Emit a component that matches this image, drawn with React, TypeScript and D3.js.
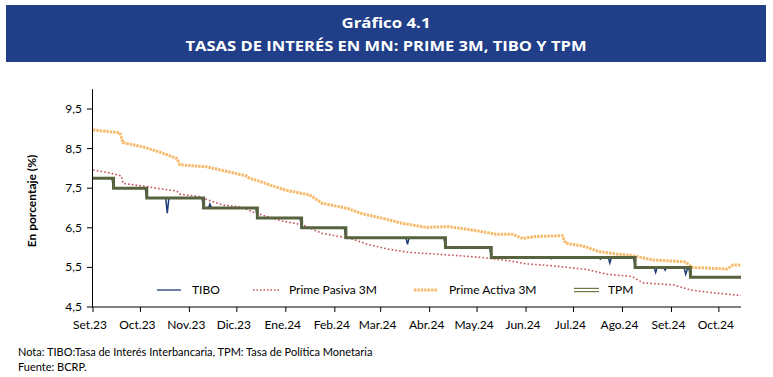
import React from "react";
import * as d3 from "d3";

// ---------- data ----------
const tickDates = [
  "2023-09-01", "2023-10-01", "2023-11-01", "2023-12-01", "2024-01-01", "2024-02-01", "2024-03-01",
  "2024-04-01", "2024-05-01", "2024-06-01", "2024-07-01", "2024-08-01", "2024-09-01", "2024-10-01",
];
const tickLabels = [
  "Set.23", "Oct.23", "Nov.23", "Dic.23", "Ene.24", "Feb.24", "Mar.24",
  "Abr.24", "May.24", "Jun.24", "Jul.24", "Ago.24", "Set.24", "Oct.24",
];
const yTicks = [4.5, 5.5, 6.5, 7.5, 8.5, 9.5];
const yTickLabels = ["4,5", "5,5", "6,5", "7,5", "8,5", "9,5"];

// TPM: policy rate change dates (step after)
const tpmDates = [
  "2023-09-01", "2023-09-14", "2023-10-05", "2023-11-10", "2023-12-14", "2024-01-11",
  "2024-02-08", "2024-04-11", "2024-05-10", "2024-08-09", "2024-09-13", "2024-10-15",
];
const tpmValues = [7.75, 7.5, 7.25, 7.0, 6.75, 6.5, 6.25, 6.0, 5.75, 5.5, 5.25, 5.25];

// TIBO: interbank rate (follows TPM with some spikes)
const tiboDates = [
  "2023-09-01", "2023-09-13", "2023-09-14", "2023-10-04", "2023-10-05", "2023-10-17", "2023-10-18",
  "2023-10-19", "2023-11-09", "2023-11-10", "2023-11-13", "2023-11-14", "2023-11-15", "2023-12-13",
  "2023-12-14", "2024-01-10", "2024-01-11", "2024-02-07", "2024-02-08", "2024-03-17", "2024-03-18",
  "2024-03-19", "2024-04-10", "2024-04-11", "2024-05-09", "2024-05-10", "2024-06-16", "2024-06-17",
  "2024-06-18", "2024-07-17", "2024-07-18", "2024-07-19", "2024-07-23", "2024-07-24", "2024-07-25",
  "2024-08-08", "2024-08-09", "2024-08-21", "2024-08-22", "2024-08-23", "2024-08-27", "2024-08-28",
  "2024-08-29", "2024-09-09", "2024-09-10", "2024-09-11", "2024-09-12", "2024-09-13", "2024-10-15",
];
const tiboValues = [
  7.75, 7.75, 7.5, 7.5, 7.25, 7.25, 6.87,
  7.25, 7.25, 7.0, 7.0, 7.1, 7.0, 7.0,
  6.75, 6.75, 6.5, 6.5, 6.25, 6.25, 6.08,
  6.25, 6.25, 6.0, 6.0, 5.75, 5.75, 5.72,
  5.75, 5.75, 5.71, 5.75, 5.75, 5.61, 5.75,
  5.75, 5.5, 5.5, 5.37, 5.5, 5.5, 5.43,
  5.5, 5.5, 5.33, 5.45, 5.5, 5.25, 5.25,
];

// Prime Pasiva 3M
const pasivaDates = [
  "2023-09-01", "2023-09-11", "2023-09-19", "2023-09-20", "2023-10-05", "2023-10-11", "2023-10-24",
  "2023-10-26", "2023-11-07", "2023-11-13", "2023-11-22", "2023-12-04", "2023-12-13", "2023-12-30",
  "2024-01-12", "2024-01-24", "2024-02-11", "2024-02-21", "2024-03-06", "2024-03-19", "2024-04-03",
  "2024-04-18", "2024-05-04", "2024-05-21", "2024-06-01", "2024-06-18", "2024-07-09", "2024-07-22",
  "2024-08-07", "2024-08-14", "2024-09-02", "2024-09-13", "2024-09-27", "2024-10-15",
];
const pasivaValues = [
  7.96, 7.89, 7.81, 7.62, 7.54, 7.5, 7.43,
  7.35, 7.29, 7.2, 7.08, 7.02, 6.87, 6.67,
  6.57, 6.36, 6.23, 6.09, 5.96, 5.88, 5.84,
  5.8, 5.75, 5.67, 5.59, 5.54, 5.45, 5.33,
  5.27, 5.11, 5.06, 4.93, 4.86, 4.79,
];

// Prime Activa 3M
const activaDates = [
  "2023-09-01", "2023-09-18", "2023-09-20", "2023-10-02", "2023-10-11", "2023-10-17", "2023-10-24",
  "2023-10-26", "2023-11-12", "2023-11-25", "2023-12-07", "2023-12-09", "2023-12-15", "2023-12-22",
  "2024-01-01", "2024-01-16", "2024-01-24", "2024-02-09", "2024-02-17", "2024-03-02", "2024-03-15",
  "2024-03-30", "2024-04-13", "2024-04-30", "2024-05-13", "2024-05-23", "2024-05-30", "2024-06-07",
  "2024-06-24", "2024-06-26", "2024-07-07", "2024-07-17", "2024-07-28", "2024-08-07", "2024-08-20",
  "2024-09-10", "2024-09-14", "2024-10-06", "2024-10-10", "2024-10-15",
];
const activaValues = [
  8.97, 8.9, 8.65, 8.55, 8.44, 8.36, 8.25,
  8.09, 8.04, 7.92, 7.81, 7.75, 7.68, 7.58,
  7.45, 7.33, 7.12, 6.99, 6.87, 6.74, 6.61,
  6.51, 6.53, 6.43, 6.34, 6.34, 6.23, 6.28,
  6.3, 6.11, 6.04, 5.9, 5.84, 5.8, 5.69,
  5.64, 5.5, 5.46, 5.56, 5.56,
];

const legendNames = ["TIBO", "Prime Pasiva 3M", "Prime Activa 3M", "TPM"];

// ---------- helpers ----------
const parse = d3.timeParse("%Y-%m-%d");
type Pt = { d: Date; v: number };
const zip = (ds: string[], vs: number[]): Pt[] => ds.map((s, i) => ({ d: parse(s) as Date, v: vs[i] }));

const W = 773;
const H = 377;
const FONT = "Lato, 'Open Sans', sans-serif";

export default function App() {
  const x = d3
    .scaleTime()
    .domain([parse("2023-09-01") as Date, parse("2024-10-15") as Date])
    .range([93, 741]);
  const y = d3.scaleLinear().domain([4.5, 10]).range([307, 89.2]);

  const line = d3
    .line<Pt>()
    .x((p) => x(p.d))
    .y((p) => y(p.v));
  const stepLine = d3
    .line<Pt>()
    .x((p) => x(p.d))
    .y((p) => y(p.v))
    .curve(d3.curveStepAfter);

  const tibo = zip(tiboDates, tiboValues);
  const tpm = zip(tpmDates, tpmValues);
  const pasiva = zip(pasivaDates, pasivaValues);
  const activa = zip(activaDates, activaValues);

  const x0 = x.range()[0];
  const x1 = x.range()[1];
  const yBase = y(4.5);

  const colTibo = "#1f3a78";
  const colPasiva = "#c8505a";
  const colActiva = "#f6b968";
  const colTpm = "#57623f";

  const legendY = 290;
  const legendItems = [
    { x: 157, tx: 192 },
    { x: 253, tx: 289 },
    { x: 414, tx: 449 },
    { x: 574, tx: 608 },
  ];

  return (
    <svg width={W} height={H} style={{ position: "absolute", left: 0, top: 0, background: "#fff" }}>
      {/* header */}
      <rect x={6} y={5} width={760} height={57} fill="#213f88" />
      <text x={386} y={28} textAnchor="middle" fill="#fff" fontFamily="'Open Sans', sans-serif" fontWeight={700} fontSize={15} textLength={89} lengthAdjust="spacingAndGlyphs">
        Gráfico 4.1
      </text>
      <text x={386} y={51} textAnchor="middle" fill="#fff" fontFamily="'Open Sans', sans-serif" fontWeight={700} fontSize={15} textLength={401} lengthAdjust="spacingAndGlyphs">
        TASAS DE INTERÉS EN MN: PRIME 3M, TIBO Y TPM
      </text>

      {/* series */}
      <path d={line(tibo) || ""} fill="none" stroke={colTibo} strokeWidth={1.5} />
      <path d={line(pasiva) || ""} fill="none" stroke={colPasiva} strokeWidth={1.6} strokeDasharray="1.6,2.2" />
      <path d={line(activa) || ""} fill="none" stroke={colActiva} strokeWidth={3} strokeDasharray="2.4,1" />
      <path d={stepLine(tpm) || ""} fill="none" stroke={colTpm} strokeWidth={3} />

      {/* y axis */}
      <line x1={x0 - 0.5} x2={x0 - 0.5} y1={y(10)} y2={yBase} stroke="#000" strokeWidth={1} />
      {yTicks.map((t, i) => (
        <g key={"y" + i}>
          <line x1={x0 - 6} x2={x0 - 0.5} y1={y(t)} y2={y(t)} stroke="#000" strokeWidth={1} />
          <text x={82} y={y(t) + 4} textAnchor="end" fontFamily={FONT} fontSize={12} fill="#000">
            {yTickLabels[i]}
          </text>
        </g>
      ))}

      {/* x axis */}
      <line x1={x0 - 1} x2={x1} y1={yBase} y2={yBase} stroke="#000" strokeWidth={1} />
      {tickDates.map((s, i) => {
        const px = x(parse(s) as Date);
        return (
          <g key={"x" + i}>
            <line x1={px} x2={px} y1={yBase} y2={yBase + 5} stroke="#000" strokeWidth={1} />
            <text x={px - 3} y={329} textAnchor="middle" fontFamily={FONT} fontSize={12} fill="#000">
              {tickLabels[i]}
            </text>
          </g>
        );
      })}

      {/* y title */}
      <text transform="translate(36,201) rotate(-90)" textAnchor="middle" fontFamily={FONT} fontWeight={700} fontSize={12} fill="#000">
        En porcentaje (%)
      </text>

      {/* legend */}
      <line x1={legendItems[0].x} x2={legendItems[0].x + 24} y1={legendY} y2={legendY} stroke={colTibo} strokeWidth={1.3} />
      <line x1={legendItems[1].x} x2={legendItems[1].x + 27} y1={legendY} y2={legendY} stroke={colPasiva} strokeWidth={1.5} strokeDasharray="1.5,2" />
      <line x1={legendItems[2].x} x2={legendItems[2].x + 24} y1={legendY} y2={legendY} stroke={colActiva} strokeWidth={3} strokeDasharray="2.4,1" />
      <line x1={legendItems[3].x} x2={legendItems[3].x + 25} y1={legendY - 1.6} y2={legendY - 1.6} stroke="#6f7845" strokeWidth={1.2} />
      <line x1={legendItems[3].x} x2={legendItems[3].x + 25} y1={legendY + 1.6} y2={legendY + 1.6} stroke="#6f7845" strokeWidth={1.2} />
      {legendNames.map((n, i) => (
        <text key={"l" + i} x={legendItems[i].tx} y={legendY + 4} fontFamily={FONT} fontSize={12} fill="#000">
          {n}
        </text>
      ))}

      {/* notes */}
      <text x={18} y={356} fontFamily={FONT} fontSize={11} fill="#000">
        Nota: TIBO:Tasa de Interés Interbancaria, TPM: Tasa de Política Monetaria
      </text>
      <text x={18} y={371} fontFamily={FONT} fontSize={11} fill="#000">
        Fuente: BCRP.
      </text>
    </svg>
  );
}
